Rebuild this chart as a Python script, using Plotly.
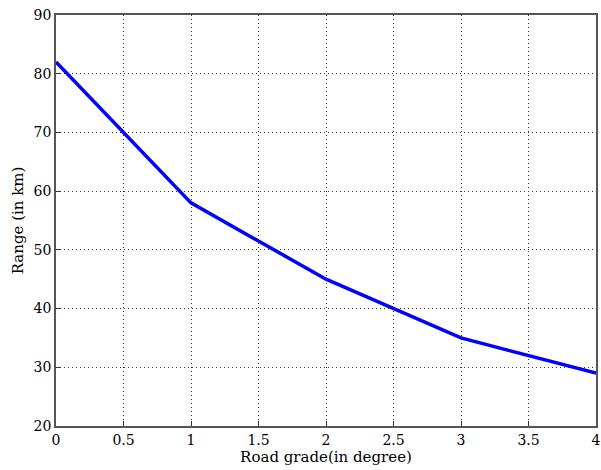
import plotly.graph_objects as go

road_grade = [0, 1, 2, 3, 4]
range_km = [82, 58, 45, 35, 29]
x_ticks = [0, 0.5, 1, 1.5, 2, 2.5, 3, 3.5, 4]
x_tick_text = ["0", "0.5", "1", "1.5", "2", "2.5", "3", "3.5", "4"]
y_ticks = [20, 30, 40, 50, 60, 70, 80, 90]

fig = go.Figure()
fig.add_trace(go.Scatter(x=road_grade, y=range_km, mode="lines",
                         line=dict(color="#0000ff", width=3.5), cliponaxis=False))

font = dict(family="DejaVu Serif", size=14, color="black")
title_font = dict(family="DejaVu Serif", size=15, color="black")
axis_common = dict(showgrid=True, gridcolor="#333333", griddash="1px,3px", gridwidth=1,
                   showline=True, linecolor="#555555", linewidth=1.5, mirror=True,
                   ticks="inside", ticklen=5, tickcolor="#333333", zeroline=False,
                   tickfont=font, ticklabeloverflow="allow")

fig.update_layout(
    width=601, height=470,
    margin=dict(l=56, r=0, t=15, b=44),
    paper_bgcolor="white", plot_bgcolor="white",
    showlegend=False,
    xaxis=dict(range=[0, 4], tickvals=x_ticks, ticktext=x_tick_text,
               title=dict(text="Road grade(in degree)", font=title_font, standoff=3),
               **axis_common),
    yaxis=dict(range=[20, 90], tickvals=y_ticks,
               title=dict(text="Range (in km)", font=title_font, standoff=6),
               **axis_common),
)
fig.write_html("out.html")
